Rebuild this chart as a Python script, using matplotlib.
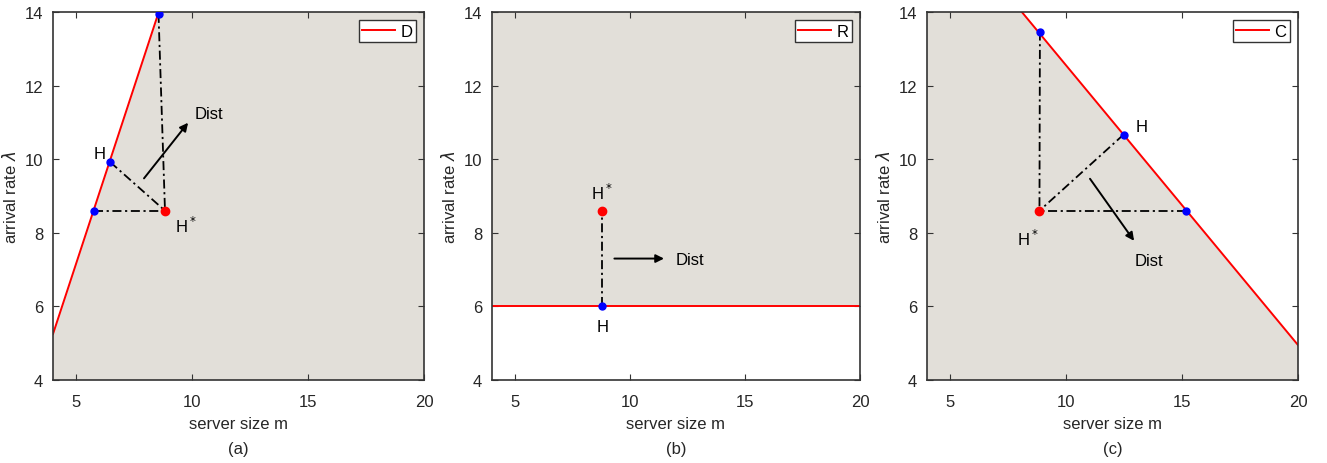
import matplotlib.pyplot as plt
import numpy as np

plt.rcParams['font.family'] = ['Liberation Sans', 'DejaVu Sans']

# boundary lines (x, y) for each panel
line_a_x = [4, 8.56]
line_a_y = [5.25, 14]
line_b_x = [4, 20]
line_b_y = [6, 6]
line_c_x = [8.09, 20]
line_c_y = [14, 4.95]

# optimum point H* and projected points on the boundary
hstar_a = (8.83, 8.6)
blue_a_x = [8.55, 6.47, 5.78]
blue_a_y = [13.95, 9.92, 8.6]

hstar_b = (8.8, 8.6)
blue_b_x = [8.8]
blue_b_y = [6]

hstar_c = (8.85, 8.6)
blue_c_x = [8.87, 12.48, 15.18]
blue_c_y = [13.47, 10.67, 8.6]

# arrows (start, end)
arrow_a = ((7.85, 9.42), (9.9, 11.05))
arrow_b = ((9.2, 7.3), (11.6, 7.3))
arrow_c = ((10.96, 9.53), (13.0, 7.72))

legend_names = ['D', 'R', 'C']
panel_tags = ['(a)', '(b)', '(c)']

fill_col = '#e2dfd9'
spine_col = '#333333'
txt_col = '#262626'

fig = plt.figure(figsize=(13.27, 4.64), dpi=100)
lefts = [53 / 1327, 492 / 1327, 927 / 1327]
widths = [371 / 1327, 368 / 1327, 371 / 1327]
axes = [fig.add_axes([l, 1 - 381 / 464, w, 368 / 464]) for l, w in zip(lefts, widths)]

# shaded feasible regions
polys = [
    ([4, 4, line_a_x[1], 20, 20], [4, line_a_y[0], 14, 14, 4]),
    ([4, 4, 20, 20], [6, 14, 14, 6]),
    ([4, 4, line_c_x[0], 20, 20], [4, 14, 14, line_c_y[1], 4]),
]
lines = [(line_a_x, line_a_y), (line_b_x, line_b_y), (line_c_x, line_c_y)]
hstars = [hstar_a, hstar_b, hstar_c]
blues = [(blue_a_x, blue_a_y), (blue_b_x, blue_b_y), (blue_c_x, blue_c_y)]
arrows = [arrow_a, arrow_b, arrow_c]

for i, ax in enumerate(axes):
    px, py = polys[i]
    ax.fill(px, py, color=fill_col, lw=0, zorder=0)
    ax.plot(lines[i][0], lines[i][1], color='red', lw=1.4, label=legend_names[i], zorder=2)

    hx, hy = hstars[i]
    bx, by = blues[i]
    for x, y in zip(bx, by):
        ax.plot([x, hx], [y, hy], color='black', ls=(0, (5, 2, 1.2, 2)), lw=1.3, zorder=3)
    ax.plot(bx, by, 'o', color='blue', ms=5, zorder=4)
    ax.plot([hx], [hy], 'o', color='red', ms=6, zorder=4)

    (x0, y0), (x1, y1) = arrows[i]
    ax.annotate('', xy=(x1, y1), xytext=(x0, y0),
                arrowprops=dict(arrowstyle='-|>', color='black', lw=1.4, mutation_scale=12))

    ax.set_xlim(4, 20)
    ax.set_ylim(4, 14)
    ax.set_xticks([5, 10, 15, 20])
    ax.set_yticks([4, 6, 8, 10, 12, 14])
    ax.tick_params(direction='in', top=True, right=True, labelsize=12,
                   length=4, color=spine_col, labelcolor=txt_col)
    ax.tick_params(axis='x', pad=10)
    ax.tick_params(axis='y', pad=7)
    for s in ax.spines.values():
        s.set_color(spine_col)
        s.set_linewidth(1.2)
    ax.set_xlabel('server size m', fontsize=12, color=txt_col, labelpad=5)
    ax.set_ylabel('arrival rate $\\lambda$', fontsize=12, color=txt_col, labelpad=4)
    ax.text(0.5, -0.185, panel_tags[i], transform=ax.transAxes, ha='center', va='center',
            fontsize=12, color=txt_col)
    leg = ax.legend(loc='upper right', fontsize=12, handlelength=2.0, borderpad=0.2,
                    handletextpad=0.3, borderaxespad=0.5, fancybox=False, framealpha=1)
    leg.get_frame().set_edgecolor(spine_col)
    leg.get_frame().set_linewidth(1.0)

hs = 'H$^*$'
# point labels
axes[0].text(6.25, 10.15, 'H', fontsize=12, ha='right', va='center')
axes[0].text(9.25, 8.2, hs, fontsize=12, ha='left', va='center')
axes[0].text(10.1, 11.25, 'Dist', fontsize=12, ha='left', va='center')

axes[1].text(8.8, 9.1, hs, fontsize=12, ha='center', va='center')
axes[1].text(8.8, 5.45, 'H', fontsize=12, ha='center', va='center')
axes[1].text(12.0, 7.27, 'Dist', fontsize=12, ha='left', va='center')

axes[2].text(13.0, 10.9, 'H', fontsize=12, ha='left', va='center')
axes[2].text(8.35, 7.85, hs, fontsize=12, ha='center', va='center')
axes[2].text(13.55, 7.24, 'Dist', fontsize=12, ha='center', va='center')

fig.savefig('out.png', dpi=100)
